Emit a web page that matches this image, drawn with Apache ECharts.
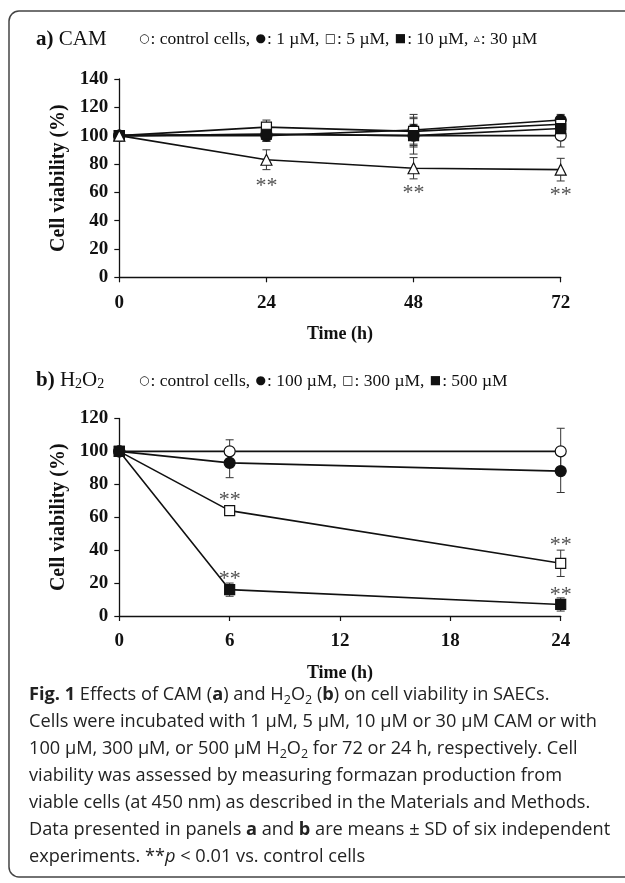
<!DOCTYPE html>
<html><head><meta charset="utf-8">
<script src="https://cdn.jsdelivr.net/npm/echarts@6/dist/echarts.min.js"></script>
<style>html,body{margin:0;padding:0;background:#fff}#c{width:625px;height:883px}</style>
</head><body><div id="c"></div>
<script>
// ---- Panel a: CAM ----
const timesA = [0, 24, 48, 72];
const camControl = [100, 101, 100, 100];
const camControlErr = [0, 4, 8, 8];
const cam1 = [100, 100, 104, 111];
const cam1Err = [0, 4, 11, 4];
const cam5 = [100, 106, 103, 108];
const cam5Err = [0, 5, 9, 5];
const cam10 = [100, 101, 100, 105];
const cam10Err = [0, 5, 13, 6];
const cam30 = [100, 83, 77, 76];
const cam30Err = [0, 7, 7.5, 8];
const camStars = [[24, 67], [48, 62.5], [72, 61]];

// ---- Panel b: H2O2 ----
const timesB = [0, 6, 24];
const h2o2Control = [100, 100, 100];
const h2o2ControlErr = [0, 7, 14];
const h100 = [100, 93, 88];
const h100Err = [0, 9, 13];
const h300 = [100, 64, 32];
const h300Err = [0, 2, 8];
const h500 = [100, 16, 7];
const h500Err = [0, 4, 4];
const h2o2Stars = [[6, 73], [6, 25], [24, 45.5], [24, 15]];

const SERIF = '"Liberation Serif","Times New Roman",serif';
const chart = echarts.init(document.getElementById('c'), null, {renderer: 'canvas'});

function pts(t, v) { return t.map((x, i) => [x, v[i]]); }
function errPts(t, v, e) { return t.map((x, i) => [x, v[i], e[i]]); }

function lineSeries(idx, t, v, symbol, filled, size) {
  return {
    type: 'line', xAxisIndex: idx, yAxisIndex: idx, data: pts(t, v),
    symbol: symbol, symbolSize: size, showSymbol: true,
    lineStyle: {color: '#111', width: 1.6},
    itemStyle: {color: filled ? '#111' : '#fff', borderColor: '#111', borderWidth: 1.2},
    z: 5, animation: false, silent: true
  };
}
function errSeries(idx, t, v, e) {
  return {
    type: 'custom', xAxisIndex: idx, yAxisIndex: idx, data: errPts(t, v, e),
    renderItem: function (params, api) {
      const x = api.value(0), y = api.value(1), er = api.value(2);
      if (!er) return null;
      const top = api.coord([x, y + er]);
      const bot = api.coord([x, y - er]);
      const w = 4;
      const st = {stroke: '#333', lineWidth: 1};
      return {type: 'group', children: [
        {type: 'line', shape: {x1: top[0], y1: top[1], x2: bot[0], y2: bot[1]}, style: st},
        {type: 'line', shape: {x1: top[0] - w, y1: top[1], x2: top[0] + w, y2: top[1]}, style: st},
        {type: 'line', shape: {x1: bot[0] - w, y1: bot[1], x2: bot[0] + w, y2: bot[1]}, style: st}
      ]};
    },
    z: 3, animation: false, silent: true
  };
}
function starSeries(idx, data) {
  return {
    type: 'scatter', xAxisIndex: idx, yAxisIndex: idx, data: data,
    symbolSize: 1, itemStyle: {color: 'rgba(0,0,0,0)'},
    label: {show: true, position: 'inside', formatter: '**', fontFamily: SERIF, fontSize: 22, color: '#222', offset: [0, 4]},
    z: 6, animation: false, silent: true
  };
}

function yAxis(idx) {
  return {
    gridIndex: idx, type: 'value', min: 0, max: idx === 0 ? 140 : 120, interval: 20,
    name: 'Cell viability (%)', nameLocation: 'middle', nameGap: 50, nameRotate: 90,
    nameTextStyle: {fontFamily: SERIF, fontWeight: 'bold', fontSize: 20, color: '#111'},
    axisLine: {show: true, lineStyle: {color: '#111', width: 1.3}},
    axisTick: {show: true, length: 5, lineStyle: {color: '#111', width: 1.2}},
    axisLabel: {fontFamily: SERIF, fontWeight: 'bold', fontSize: 19, color: '#111', margin: 11},
    splitLine: {show: false}
  };
}
function xAxis(idx, max, interval) {
  return {
    gridIndex: idx, type: 'value', min: 0, max: max, interval: interval,
    name: 'Time (h)', nameLocation: 'middle', nameGap: 48,
    nameTextStyle: {fontFamily: SERIF, fontWeight: 'bold', fontSize: 18, color: '#111'},
    axisLine: {show: true, onZero: false, lineStyle: {color: '#111', width: 1.3}},
    axisTick: {show: true, length: 5, lineStyle: {color: '#111', width: 1.2}},
    axisLabel: {fontFamily: SERIF, fontWeight: 'bold', fontSize: 19, color: '#111', margin: 16},
    splitLine: {show: false}
  };
}

const sub = {fontFamily: SERIF, fontSize: 14, verticalAlign: 'bottom', padding: [7, 0, 0, 0], color: '#111'};
const CAPF = '"Open Sans",sans-serif';
const CAPS = 18.2;
const capBase = {fontFamily: CAPF, fontSize: CAPS, color: '#222', lineHeight: 27};
const capSub = {fontFamily: CAPF, fontSize: 12.5, color: '#222', lineHeight: 27, padding: [11, 0, 0, 0]};
const capBold = {fontFamily: CAPF, fontSize: CAPS, color: '#222', lineHeight: 27, fontWeight: 'bold'};

const caption =
  '{b|Fig. 1} Effects of CAM ({b|a}) and H{s|2}O{s|2} ({b|b}) on cell viability in SAECs.\n' +
  'Cells were incubated with 1 µM, 5 µM, 10 µM or 30 µM CAM or with\n' +
  '100 µM, 300 µM, or 500 µM H{s|2}O{s|2} for 72 or 24 h, respectively. Cell\n' +
  'viability was assessed by measuring formazan production from\n' +
  'viable cells (at 450 nm) as described in the Materials and Methods.\n' +
  'Data presented in panels {b|a} and {b|b} are means ± SD of six independent\n' +
  'experiments. **{i|p} < 0.01 vs. control cells';

const legendRich = {k: {fontFamily: '"DejaVu Sans",sans-serif', fontSize: 12, padding: [0, 1, 0, 1], color: '#111'}};

chart.setOption({
  animation: false,
  backgroundColor: '#fff',
  grid: [
    {left: 119.3, top: 79, width: 441.4, height: 198.3},
    {left: 119.3, top: 418.4, width: 441.4, height: 197.6}
  ],
  xAxis: [xAxis(0, 72, 24), xAxis(1, 24, 6)],
  yAxis: [yAxis(0), yAxis(1)],
  graphic: [
    {type: 'rect', shape: {x: 9, y: 11, width: 640, height: 866, r: 10},
     style: {fill: 'none', stroke: '#444', lineWidth: 1.5}, silent: true},
    {type: 'text', left: 36, top: 29, style: {
      text: '{b|a)} CAM', font: '21px ' + SERIF, fill: '#111',
      rich: {b: {fontFamily: SERIF, fontWeight: 'bold', fontSize: 21}}}},
    {type: 'text', left: 139, top: 30, style: {
      text: '{k|○}: control cells, {k|●}: 1 µM, {k|□}: 5 µM, {k|■}: 10 µM, {k|▵}: 30 µM',
      font: '17.5px ' + SERIF, fill: '#111', rich: legendRich}},
    {type: 'text', left: 36, top: 370, style: {
      text: '{b|b)} H{s|2}O{s|2}', font: '21px ' + SERIF, fill: '#111',
      rich: {b: {fontFamily: SERIF, fontWeight: 'bold', fontSize: 21}, s: sub}}},
    {type: 'text', left: 139, top: 372, style: {
      text: '{k|○}: control cells, {k|●}: 100 µM, {k|□}: 300 µM, {k|■}: 500 µM',
      font: '17.5px ' + SERIF, fill: '#111', rich: legendRich}},
    {type: 'text', left: 29, top: 681, style: {
      text: caption, font: CAPS + 'px ' + CAPF, fill: '#222', lineHeight: 27,
      rich: {b: capBold, s: capSub, i: Object.assign({}, capBase, {fontStyle: 'italic'})}}}
  ],
  series: [
    errSeries(0, timesA, camControl, camControlErr),
    errSeries(0, timesA, cam1, cam1Err),
    errSeries(0, timesA, cam5, cam5Err),
    errSeries(0, timesA, cam10, cam10Err),
    errSeries(0, timesA, cam30, cam30Err),
    lineSeries(0, timesA, camControl, 'circle', false, 11),
    lineSeries(0, timesA, cam1, 'circle', true, 11),
    lineSeries(0, timesA, cam5, 'rect', false, 10),
    lineSeries(0, timesA, cam10, 'rect', true, 10),
    lineSeries(0, timesA, cam30, 'triangle', false, 11),
    starSeries(0, camStars),
    errSeries(1, timesB, h2o2Control, h2o2ControlErr),
    errSeries(1, timesB, h100, h100Err),
    errSeries(1, timesB, h300, h300Err),
    errSeries(1, timesB, h500, h500Err),
    lineSeries(1, timesB, h2o2Control, 'circle', false, 11),
    lineSeries(1, timesB, h100, 'circle', true, 11),
    lineSeries(1, timesB, h300, 'rect', false, 10),
    lineSeries(1, timesB, h500, 'rect', true, 10),
    starSeries(1, h2o2Stars)
  ]
});
</script></body></html>
